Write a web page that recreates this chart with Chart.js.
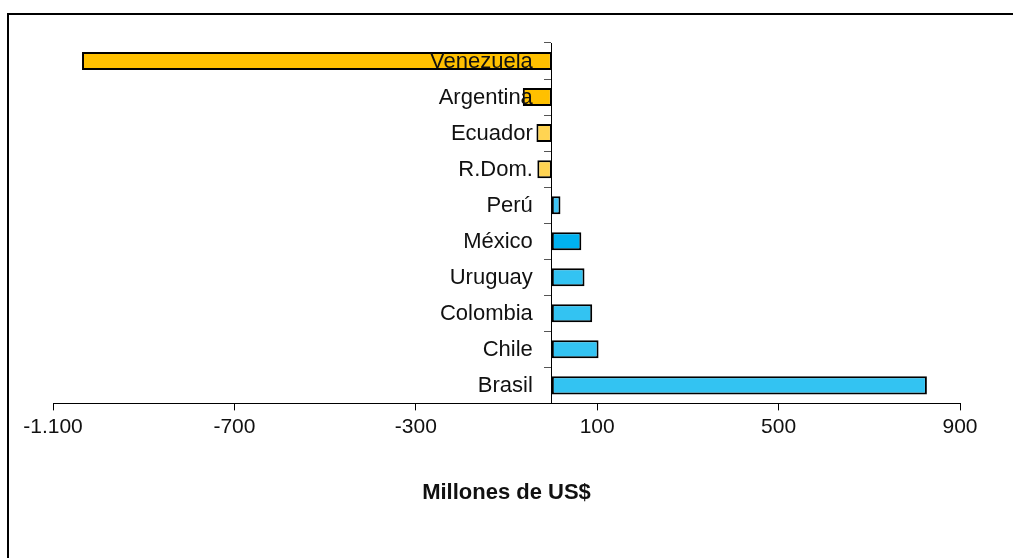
<!DOCTYPE html>
<html>
<head>
<meta charset="utf-8">
<script src="https://cdn.jsdelivr.net/npm/chart.js@4.4.0/dist/chart.umd.min.js"></script>
<style>
  html, body { margin: 0; padding: 0; background: #fff; overflow: hidden; }
  #frame { position: absolute; left: 7px; top: 13px; width: 1100px; height: 700px; border: 2px solid #000; }
  #wrap { position: absolute; left: 0; top: 0; width: 1013px; height: 558px; }
</style>
</head>
<body>
<div id="frame"></div>
<div id="wrap"><canvas id="chart" width="1013" height="558"></canvas></div>
<script>
// datos (millones de US$)
var paises = ['Venezuela', 'Argentina', 'Ecuador', 'R.Dom.', 'Perú', 'México', 'Uruguay', 'Colombia', 'Chile', 'Brasil'];
var valores = [-1036, -64, -34, -32, 19, 65, 72, 89, 103, 827];
var colores = ['#FFC000', '#FFC000', '#FFD452', '#FFD452', '#3FC4F4', '#00B2F0', '#33C3F2', '#33C3F2', '#33C3F2', '#33C3F2'];
var ticksX = [-1100, -700, -300, 100, 500, 900];

function formato(v) {
	var s = Math.abs(v).toString().replace(/\B(?=(\d{3})+(?!\d))/g, '.');
	return (v < 0 ? '-' : '') + s;
}

Chart.defaults.font.family = '"Liberation Sans", Arial, sans-serif';
Chart.defaults.color = '#000';

// nombres de paises junto al eje cero, por encima de las barras
var etiquetasPaises = {
	id: 'etiquetasPaises',
	afterDatasetsDraw: function (chart) {
		var c = chart.ctx;
		var xs = chart.scales.x;
		var ys = chart.scales.y;
		var x0 = xs.getPixelForValue(0) - 19;
		c.save();
		c.font = '22px "Liberation Sans", Arial, sans-serif';
		c.fillStyle = '#111';
		c.textAlign = 'right';
		c.textBaseline = 'middle';
		paises.forEach(function (p, i) {
			c.fillText(p, x0, ys.getPixelForTick(i) + 1);
		});
		c.restore();
	}
};

var ctx = document.getElementById('chart').getContext('2d');
new Chart(ctx, {
	type: 'bar',
	data: {
		labels: paises,
		datasets: [{
			data: valores,
			backgroundColor: colores,
			borderColor: '#000',
			borderWidth: 2,
			borderSkipped: false,
			barPercentage: 0.5,
			categoryPercentage: 1.0
		}]
	},
	options: {
		indexAxis: 'y',
		responsive: false,
		animation: false,
		devicePixelRatio: 1,
		layout: { padding: { left: 53, right: 53, top: 43, bottom: 52 } },
		plugins: { legend: { display: false }, tooltip: { enabled: false } },
		scales: {
			x: {
				min: -1100,
				max: 900,
				afterBuildTicks: function (scale) {
					scale.ticks = ticksX.map(function (v) { return { value: v }; });
				},
				grid: { drawOnChartArea: false, color: '#000', tickLength: 7, lineWidth: 1 },
				border: { color: '#000', width: 1 },
				ticks: {
					font: { size: 21 },
					padding: 4,
					color: '#111',
					callback: function (v) { return formato(v); }
				},
				title: {
					display: true,
					text: 'Millones de US$',
					font: { size: 22, weight: 'bold' },
					color: '#111',
					padding: { top: 36, bottom: 0 }
				}
			},
			y: {
				position: { x: 0 },
				grid: { drawOnChartArea: false, offset: true, color: '#555', tickLength: 7 },
				border: { color: '#000', width: 1 },
				ticks: { display: false }
			}
		}
	},
	plugins: [etiquetasPaises]
});
</script>
</body>
</html>
